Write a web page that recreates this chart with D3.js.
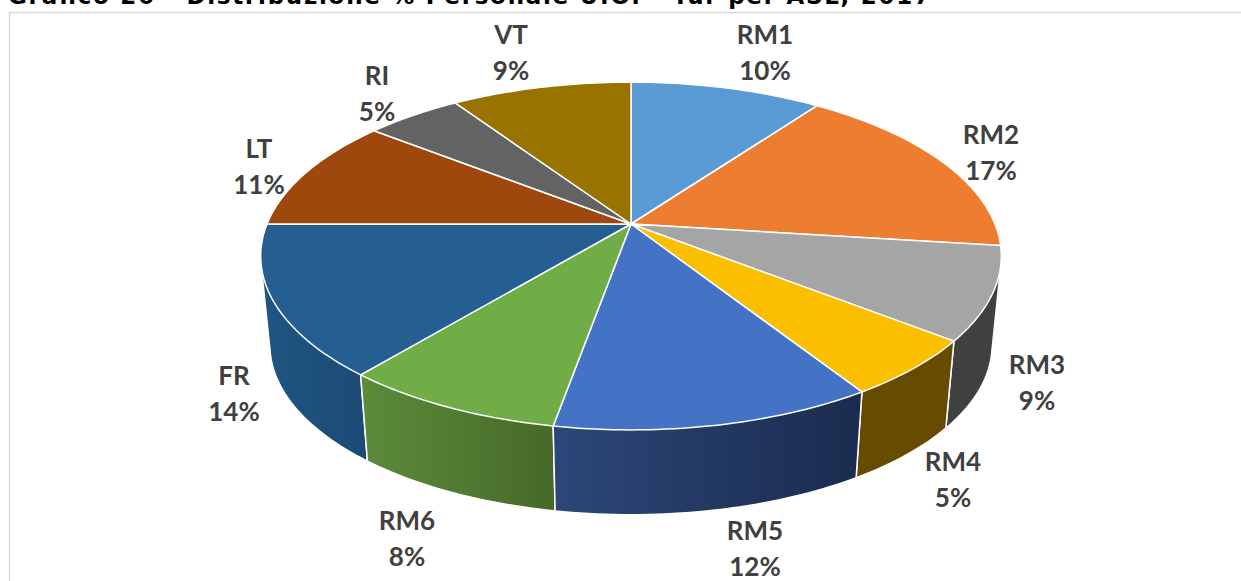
<!DOCTYPE html>
<html>
<head>
<meta charset="utf-8">
<script src="https://cdn.jsdelivr.net/npm/d3@7"></script>
<style>
html, body { margin: 0; padding: 0; background: #fff; overflow: hidden; }
svg { display: block; }
</style>
</head>
<body>
<svg id="chart" width="1241" height="581"></svg>
<script>
var titleText = "Grafico 26 - Distribuzione % Personale U.O. - Tur per ASL, 2017";
var categories = ["RM1", "RM2", "RM3", "RM4", "RM5", "RM6", "FR", "LT", "RI", "VT"];
var percents = [10, 17, 8.6, 5.4, 11.8, 8.2, 14, 10.6, 5, 9.4];
var shownLabels = ["10%", "17%", "9%", "5%", "12%", "8%", "14%", "11%", "5%", "9%"];

var topColors = ["#5b9bd5", "#ed7d31", "#a5a5a5", "#fcbf00", "#4472c4", "#70ad47", "#255e91", "#9e480e", "#636363", "#997300"];
// wall shading, left and right end of the gradient
var wallLeft = ["#3c6d99", "#a55620", "#404040", "#664b00", "#2c4778", "#5c8c3a", "#1f5684", "#6e320a", "#444444", "#6a5000"];
var wallRight = ["#3c6d99", "#a55620", "#404040", "#664b00", "#1a2b4e", "#466829", "#1c4a74", "#6e320a", "#444444", "#6a5000"];

// label centres, one per slice
var labelX = [765, 991, 1037, 953, 755, 407, 234, 259, 377, 511];
var labelY = [53, 153, 383, 480, 548.5, 539, 394, 167, 94, 53];

var svg = d3.select("#chart");

// the pie is a circle seen in perspective: apex above the ellipse centre
var cx = 631, cy = 224;
var k = 0.184, A = 168, B = 364;
var depth = 90, shrink = 0.975;

function rim(angle, lower){
	var u = Math.sin(angle);
	var v = -Math.cos(angle);
	var f = 1 - k * v;
	var s = lower ? shrink : 1;
	return [cx + s * B * u / f, cy + (lower ? depth : 0) + s * A * v / f];
}

function arcPoints(a0, a1, lower){
	var steps = Math.max(2, Math.ceil((a1 - a0) / 0.02));
	return d3.range(steps + 1).map(function(i){
		return rim(a0 + (a1 - a0) * i / steps, lower);
	});
}

var line = d3.line();

var pie = d3.pie().sort(null).value(function(d){ return d; });
var slices = pie(percents);

// frame of the pasted chart
svg.append("path")
	.attr("d", "M9.5,581V12.5H1241")
	.attr("fill", "none")
	.attr("stroke", "#d9d9d9")
	.attr("stroke-width", 1.5);

// title, cut by the top edge like in the source
svg.append("text")
	.attr("x", 8)
	.attr("y", 4)
	.attr("textLength", 922)
	.attr("lengthAdjust", "spacing")
	.attr("font-family", "'DejaVu Sans', sans-serif")
	.attr("font-weight", "bold")
	.attr("font-size", 23)
	.attr("fill", "#000")
	.text(titleText);

var defs = svg.append("defs");
slices.forEach(function(d, i){
	var g = defs.append("linearGradient").attr("id", "wall" + i);
	g.append("stop").attr("offset", "0%").attr("stop-color", wallLeft[i]);
	g.append("stop").attr("offset", "100%").attr("stop-color", wallRight[i]);
});

// walls back to front, hull keeps the straight sides of the cylinder
var wallOrder = slices.map(function(d, i){
	return { slice: d, index: i, near: -Math.cos((d.startAngle + d.endAngle) / 2) };
}).sort(function(a, b){ return a.near - b.near; });

svg.append("g").selectAll("path")
	.data(wallOrder)
	.enter()
	.append("path")
	.attr("d", function(d){
		var pts = arcPoints(d.slice.startAngle, d.slice.endAngle, false)
			.concat(arcPoints(d.slice.startAngle, d.slice.endAngle, true));
		return line(d3.polygonHull(pts)) + "Z";
	})
	.attr("fill", function(d){ return "url(#wall" + d.index + ")"; })
	.attr("stroke", "#fff")
	.attr("stroke-width", 1.5)
	.attr("stroke-linejoin", "round");

// top disc covers the far side of the walls
svg.append("g").selectAll("path")
	.data(slices)
	.enter()
	.append("path")
	.attr("d", function(d){
		return line([[cx, cy]].concat(arcPoints(d.startAngle, d.endAngle, false))) + "Z";
	})
	.attr("fill", function(d, i){ return topColors[i]; })
	.attr("stroke", "#fff")
	.attr("stroke-width", 1.5)
	.attr("stroke-linejoin", "round");

var labels = svg.append("g").selectAll("text")
	.data(categories)
	.enter()
	.append("text")
	.attr("text-anchor", "middle")
	.attr("font-family", "Lato, sans-serif")
	.attr("font-weight", "bold")
	.attr("font-size", 26)
	.attr("fill", "#404040");

labels.append("tspan")
	.attr("x", function(d, i){ return labelX[i]; })
	.attr("y", function(d, i){ return labelY[i] - 9; })
	.text(function(d){ return d; });

labels.append("tspan")
	.attr("x", function(d, i){ return labelX[i]; })
	.attr("y", function(d, i){ return labelY[i] + 27; })
	.text(function(d, i){ return shownLabels[i]; });
</script>
</body>
</html>
